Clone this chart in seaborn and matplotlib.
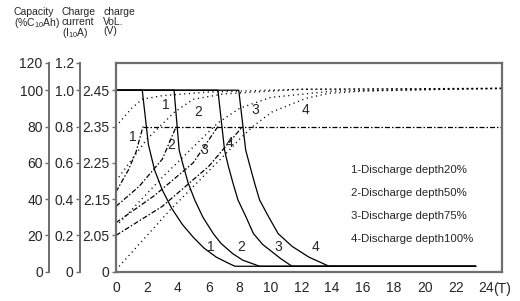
import matplotlib
matplotlib.use("Agg")
import matplotlib.pyplot as plt
import seaborn as sns
import numpy as np

sns.set_theme(style="white")
plt.rcParams['font.family'] = ['Liberation Sans', 'DejaVu Sans']
plt.rcParams['mathtext.default'] = 'regular'

# ---------------- data (capacity-% scale; current = cap/100, voltage = 2.05 + (cap-20)/200) -------------
cap_ticks = [0, 20, 40, 60, 80, 100]
cap_labels = ['0', '20', '40', '60', '80', '100', '120']
cur_labels = ['0', '0.2', '0.4', '0.6', '0.8', '1.0', '1.2']
vol_labels = ['0', '2.05', '2.15', '2.25', '2.35', '2.45']
x_ticks = [0, 2, 4, 6, 8, 10, 12, 14, 16, 18, 20, 22, 24]

# charge current curves (solid)
cur_t = [
    [0, 1.7, 2.1, 2.5, 3.0, 3.6, 4.3, 5.0, 5.7, 6.5, 7.2, 7.7, 23.3],
    [0, 3.76, 4.09, 4.34, 4.67, 5.1, 5.63, 6.3, 6.8, 7.55, 8.2, 9.3, 23.3],
    [0, 6.6, 7.03, 7.25, 7.57, 7.9, 8.43, 8.9, 9.5, 10.1, 10.7, 11.4, 23.3],
    [0, 7.95, 8.4, 8.65, 8.97, 9.3, 9.9, 10.5, 11.4, 12.5, 13.8, 23.3],
]
cur_c = [
    [100, 100, 70, 56, 45, 35, 26, 19, 13, 8, 5, 3, 3],
    [100, 100, 67, 59, 49, 39.5, 30, 21, 15.6, 10, 6.4, 3, 3],
    [100, 100, 67, 59, 49, 39.5, 30, 21, 15, 11, 7, 3, 3],
    [100, 100, 67, 59, 49, 39.5, 30, 21, 14, 8, 3, 3],
]

# charge voltage curves (dash-dot), rising part
vol_t = [
    [0, 0.8, 1.3, 1.75],
    [0, 1.5, 3.0, 3.9],
    [0, 2.5, 5.0, 6.6],
    [0, 3.0, 6.0, 8.2],
]
vol_c = [
    [44, 56, 66, 80],
    [36, 47, 62, 80],
    [27, 42, 60, 80],
    [20, 36, 58, 80],
]
# constant-voltage level (2.35 V)
cv_t = [1.75, 25]
cv_c = [80, 80]

# charged capacity curves (dotted)
capc_t = [
    [0, 1.0, 1.7, 3, 6, 12, 25],
    [0, 2, 3.8, 5, 7, 12, 25],
    [0, 3, 6.6, 8, 10, 14, 25],
    [0, 3.5, 7.0, 8.0, 8.86, 10.1, 12.3, 13.8, 16, 20, 25],
]
capc_c = [
    [80, 90, 95, 97, 99, 100.5, 101],
    [50, 73, 88, 95, 98, 100.5, 101],
    [25, 52, 82, 90, 96, 99.5, 101],
    [1, 34, 64, 73, 80, 88, 95.5, 98.3, 99.5, 100.3, 101],
]

legend_lines = ['1-Discharge depth20%', '2-Discharge depth50%',
                '3-Discharge depth75%', '4-Discharge depth100%']

# ---------------- figure -------------------------------------------------------------------------------
W, H = 520, 301
fig = plt.figure(figsize=(W / 100, H / 100), dpi=100)
x0, x1, yb, yt = 116, 502, 271.7, 62.7
ax = fig.add_axes([x0 / W, (H - yb) / H, (x1 - x0) / W, (yb - yt) / H])
YT = (yb - yt) / 1.815
ax.set_xlim(0, 25)
ax.set_ylim(0, YT)

box_col = '#6e6e6e'
for s in ax.spines.values():
    s.set_color(box_col)
    s.set_linewidth(1.6)

dot = (0, (0.8, 2.6))
dashdot = (0, (4, 1.6, 1.2, 1.6))

for t, c in zip(cur_t, cur_c):
    sns.lineplot(x=t, y=c, ax=ax, color='black', lw=0.9, sort=False, estimator=None)
for t, c in zip(vol_t, vol_c):
    sns.lineplot(x=t, y=c, ax=ax, color='black', lw=0.9, sort=False, estimator=None)
    ax.lines[-1].set_linestyle(dashdot)
sns.lineplot(x=cv_t, y=cv_c, ax=ax, color='black', lw=0.9, sort=False, estimator=None)
ax.lines[-1].set_linestyle(dashdot)
for t, c in zip(capc_t, capc_c):
    sns.lineplot(x=t, y=c, ax=ax, color='black', lw=1.0, sort=False, estimator=None)
    ax.lines[-1].set_linestyle(dot)

tick_fs = 10
ax.set_xticks(x_ticks)
ax.set_xticklabels([str(v) for v in x_ticks], fontsize=tick_fs)
ax.text(24.45, -0.05, '(T)', transform=ax.get_xaxis_transform(), fontsize=tick_fs,
        ha='left', va='top')
ax.set_yticks(cap_ticks)
ax.set_yticklabels(vol_labels, fontsize=tick_fs)
ax.tick_params(axis='y', direction='out', length=3, width=1.0, color=box_col, pad=1.5, left=True)
ax.tick_params(axis='x', length=0, pad=7)
ax.set_xlabel('')
ax.set_ylabel('')

def extra_axis(pos_px, labels):
    a = ax.twinx()
    a.set_ylim(0, YT)
    a.yaxis.set_ticks_position('left')
    for k in ['right', 'top', 'bottom']:
        a.spines[k].set_visible(False)
    a.spines['left'].set_position(('axes', (pos_px - x0) / (x1 - x0)))
    a.spines['left'].set_color(box_col)
    a.spines['left'].set_linewidth(1.4)
    a.spines['left'].set_bounds(0, YT)
    a.set_yticks(cap_ticks + [YT])
    a.set_yticklabels(labels, fontsize=tick_fs)
    a.tick_params(axis='y', direction='out', length=3, width=1.0, color=box_col, pad=1.5)
    return a

extra_axis(80, cur_labels)
extra_axis(49, cap_labels)

# curve numbers
lab_fs = 10
for i, (t, c) in enumerate([(6.17, 13.8), (8.1, 13.8), (10.5, 13.8), (12.95, 13.8)]):
    ax.text(t, c, str(i + 1), fontsize=lab_fs, ha='center', va='center')
for i, (t, c) in enumerate([(1.1, 74), (3.6, 70), (5.74, 67), (7.35, 71)]):
    ax.text(t, c, str(i + 1), fontsize=lab_fs, ha='center', va='center')
for i, (t, c) in enumerate([(3.25, 92), (5.35, 88), (9.0, 89), (12.3, 89)]):
    ax.text(t, c, str(i + 1), fontsize=lab_fs, ha='center', va='center')

for i, s in enumerate(legend_lines):
    ax.text(15.2, 56 - 12.7 * i, s, fontsize=8.2, ha='left', va='center')

# header texts
hfs = 7.5
fig.text(14 / W, 1 - 7 / H, 'Capacity\n(%C$_{10}$Ah)', fontsize=hfs, ha='left', va='top', linespacing=0.95)
fig.text(62 / W, 1 - 7 / H, 'Charge\ncurrent\n(I$_{10}$A)', fontsize=hfs, ha='left', va='top', linespacing=0.95)
fig.text(103 / W, 1 - 7 / H, 'charge\nVoL.\n(V)', fontsize=hfs, ha='left', va='top', linespacing=0.95)

fig.savefig('out.png', dpi=100)
